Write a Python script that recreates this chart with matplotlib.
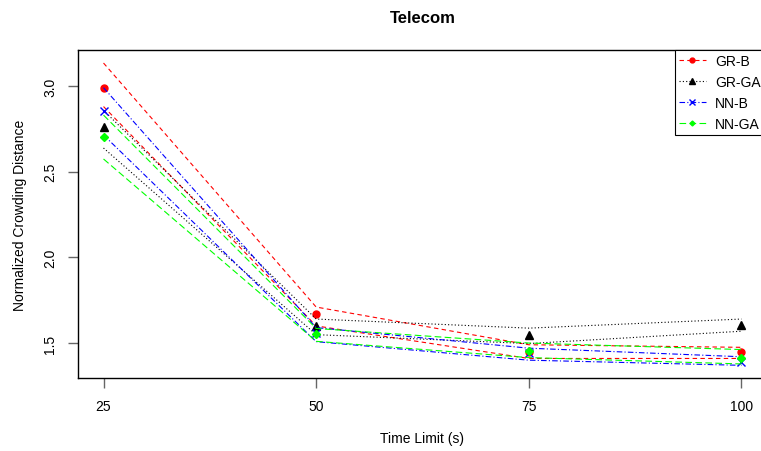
import matplotlib
matplotlib.use("Agg")
import matplotlib.pyplot as plt

plt.rcParams['font.family'] = ['Liberation Sans', 'DejaVu Sans']

# ---------- data ----------
time_limits = [25, 50, 75, 100]
series_names = ["GR-B", "GR-GA", "NN-B", "NN-GA"]

gr_b_mean = [2.99, 1.67, 1.45, 1.447]
gr_b_upper = [3.134, 1.71, 1.49, 1.475]
gr_b_lower = [2.88, 1.60, 1.41, 1.41]

gr_ga_mean = [2.758, 1.60, 1.545, 1.606]
gr_ga_upper = [2.858, 1.64, 1.587, 1.64]
gr_ga_lower = [2.638, 1.549, 1.497, 1.569]

nn_b_mean = [2.856, 1.56, 1.44, 1.392]
nn_b_upper = [2.99, 1.59, 1.47, 1.42]
nn_b_lower = [2.714, 1.508, 1.40, 1.37]

nn_ga_mean = [2.70, 1.553, 1.454, 1.413]
nn_ga_upper = [2.83, 1.585, 1.50, 1.462]
nn_ga_lower = [2.574, 1.51, 1.415, 1.378]

means = [gr_b_mean, gr_ga_mean, nn_b_mean, nn_ga_mean]
uppers = [gr_b_upper, gr_ga_upper, nn_b_upper, nn_ga_upper]
lowers = [gr_b_lower, gr_ga_lower, nn_b_lower, nn_ga_lower]

# ---------- style ----------
colors = ["#FF0000", "#000000", "#0000FF", "#00FF00"]
dashes = [(4, 3), (1, 2), (5, 2, 1, 2), (6, 3)]
markers = ["o", "^", "x", "D"]
msizes = [5, 6, 6, 4]

fig = plt.figure(figsize=(7.61, 4.52), dpi=100)
ax = fig.add_axes([78 / 761, 1 - 379 / 452, (767 - 78) / 761, (379 - 51) / 452])

for i, name in enumerate(series_names):
    for bound in (uppers[i], lowers[i]):
        ax.plot(time_limits, bound, color=colors[i], lw=0.8, dashes=dashes[i])
    ax.plot(time_limits, means[i], linestyle="none", marker=markers[i],
            color=colors[i], markersize=msizes[i], markeredgewidth=1.0)

# legend proxies (line + marker)
handles = []
for i, name in enumerate(series_names):
    h, = ax.plot([], [], color=colors[i], lw=0.8, dashes=dashes[i],
                 marker=markers[i], markersize=msizes[i] - 1.5, label=name)
    handles.append(h)
leg = ax.legend(handles=handles, loc="upper left",
                bbox_to_anchor=((675 - 78) / 689, 1),
                borderaxespad=0, fancybox=False, framealpha=1, edgecolor="black",
                fontsize=10, handlelength=1.9, handletextpad=0.7,
                labelspacing=0.5, borderpad=0.3)
leg.get_frame().set_linewidth(0.8)

ax.set_xlim(22, 103)
ax.set_ylim(1.296, 3.21)
ax.set_xticks(time_limits)
ax.set_yticks([1.5, 2.0, 2.5, 3.0])
ax.tick_params(axis="both", direction="out", length=7, width=1, color="#666666",
               labelsize=10, pad=8)
for lbl in ax.get_yticklabels():
    lbl.set_rotation(90)
    lbl.set_va("center")
for s in ax.spines.values():
    s.set_linewidth(1.0)

ax.set_title("Telecom", fontweight="bold", fontsize=12, pad=20)
ax.set_xlabel("Time Limit (s)", fontsize=10)
ax.set_ylabel("Normalized Crowding Distance", fontsize=10)
ax.xaxis.set_label_coords((422 - 78) / 689, (379 - 439) / 328)
ax.yaxis.set_label_coords((20 - 78) / 689, 0.5)
ax.xaxis.label.set_va("center")
ax.yaxis.label.set_va("center")

fig.savefig("out.png", dpi=100)
